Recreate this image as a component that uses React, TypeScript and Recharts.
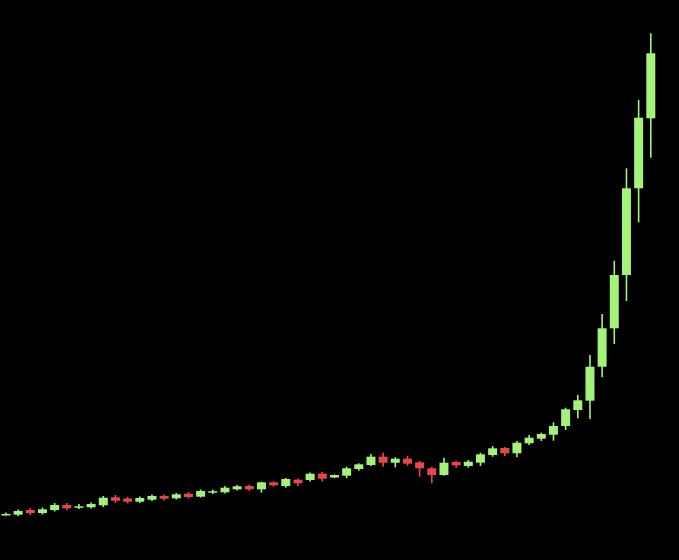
import React from "react";
import { BarChart, Bar, XAxis, YAxis } from "recharts";

const periods = [
  "1", "2", "3", "4", "5", "6", "7", "8", "9", "10",
  "11", "12", "13", "14", "15", "16", "17", "18", "19", "20",
  "21", "22", "23", "24", "25", "26", "27", "28", "29", "30",
  "31", "32", "33", "34", "35", "36", "37", "38", "39", "40",
  "41", "42", "43", "44", "45", "46", "47", "48", "49", "50",
  "51", "52", "53", "54",
];

const opens = [
  45.5, 45.3, 50, 47, 50, 55, 53, 52.7, 54.7, 62.7,
  61.5, 58.3, 60.3, 64, 61.7, 66.3, 63.3, 67.8, 67.7, 70.7,
  74, 70.7, 77.7, 74, 80.3, 80, 86.3, 82.5, 84.3, 91,
  95, 103.3, 97.3, 101.3, 97.7, 91.7, 85, 98, 94, 97.3,
  105, 112, 106.7, 116.7, 121.3, 125.3, 134, 150, 159.3, 193.3,
  231.7, 285, 371.7, 441.7,
];

const closes = [
  46, 49, 47, 50.7, 55, 51.7, 53.7, 56, 62.3, 59.3,
  58.3, 62, 64, 61.3, 65.7, 63, 69, 68.8, 72.3, 73.7,
  70.7, 77.7, 74.7, 81, 76.7, 86.3, 81.3, 85, 91.7, 95.7,
  103.3, 97.3, 101.3, 96.3, 91.7, 85, 97.3, 94.7, 98.3, 105.7,
  111.7, 106.7, 117.3, 122.3, 126, 134, 150.7, 159.7, 193.3, 231.7,
  285, 371.7, 442.3, 506.7,
];

const highs = [
  47.5, 50.5, 52, 52.5, 57, 57, 56, 57.5, 64, 65,
  63, 63.5, 65.5, 65.5, 67, 68, 70.5, 70.5, 74, 75,
  75.5, 78.3, 78.7, 82, 81.5, 87.5, 88, 85.5, 93.3, 96.7,
  106, 107.5, 102.7, 104, 99.3, 93.3, 102.3, 99.3, 100, 107.3,
  114, 113, 119, 125, 127.3, 137.7, 152.3, 165, 205, 246,
  299.3, 391.7, 460, 526.7,
];

const lows = [
  44.5, 44, 45, 45.5, 48.5, 50, 51, 51.5, 53, 57,
  56.5, 57, 59, 59.5, 60.5, 61.5, 62.5, 66, 66.5, 69.5,
  69, 67.3, 73.3, 72.3, 74, 78.5, 78.3, 82, 81.7, 89.3,
  94, 93.3, 92.7, 94.3, 83.3, 76.7, 84.3, 92.3, 92.3, 94,
  103.3, 104, 102.7, 115, 119, 119.3, 130, 141.7, 141, 182.7,
  216, 259, 337.7, 402.3,
];

const UP = "#a3f27a";
const DOWN = "#e8474a";

const data = periods.map((p, i) => ({
  period: p,
  open: opens[i],
  close: closes[i],
  high: highs[i],
  low: lows[i],
}));

const Candle = (props: any) => {
  const { x, y, width, height, payload } = props;
  if (!payload) return null;
  const { open, close, high, low } = payload;
  const up = close >= open;
  const color = up ? UP : DOWN;
  const range = high - low;
  const ratio = range > 0 ? height / range : 0;
  const bodyTopVal = Math.max(open, close);
  const bodyBotVal = Math.min(open, close);
  const bodyY = y + (high - bodyTopVal) * ratio;
  const bodyH = Math.max((bodyTopVal - bodyBotVal) * ratio, 1.5);
  const cx = x + width / 2;
  return (
    <g>
      <line x1={cx} x2={cx} y1={y} y2={y + height} stroke={color} strokeWidth={1.6} />
      <rect x={x} y={bodyY} width={width} height={bodyH} fill={color} />
    </g>
  );
};

export default function App() {
  return (
    <div
      style={{
        position: "fixed",
        top: 0,
        left: 0,
        width: 679,
        height: 560,
        background: "#000",
      }}
    >
      <BarChart
        width={679}
        height={560}
        data={data}
        margin={{ top: 0, right: 22, left: 0, bottom: 0 }}
        barCategoryGap="12%"
      >
        <XAxis dataKey="period" hide />
        <YAxis hide domain={[0, 560]} />
        <Bar
          dataKey={(d: any) => [d.low, d.high]}
          shape={<Candle />}
          isAnimationActive={false}
        />
      </BarChart>
    </div>
  );
}
